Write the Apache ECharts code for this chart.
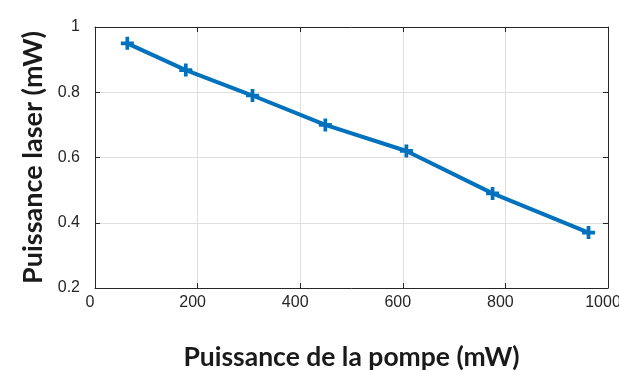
<!DOCTYPE html>
<html><head><meta charset="utf-8">
<script src="https://cdn.jsdelivr.net/npm/echarts@6/dist/echarts.min.js"></script>
<style>html,body{margin:0;padding:0;background:#fff}#c{width:619px;height:370px}</style>
</head><body><div id="c"></div>
<script>
const pumpPower = [63, 177, 307, 449, 607, 775, 962];
const laserPower = [0.95, 0.868, 0.79, 0.70, 0.62, 0.49, 0.37];
const xTitle = 'Puissance de la pompe (mW)';
const yTitle = 'Puissance laser (mW)';

const chart = echarts.init(document.getElementById('c'));
const axisColor = '#262626';
const plusPath = 'path://M-1,-3.5L1,-3.5L1,-1L3.5,-1L3.5,1L1,1L1,3.5L-1,3.5L-1,1L-3.5,1L-3.5,-1L-1,-1Z';
const baseX = {
  type: 'value', min: 0, max: 1000, interval: 200,
  axisLine: {show: true, onZero: false, lineStyle: {color: axisColor, width: 1}},
  axisTick: {show: true, inside: true, length: 5, lineStyle: {color: axisColor}},
  splitLine: {show: false}
};
const baseY = {
  type: 'value', min: 0.2, max: 1, interval: 0.2,
  axisLine: {show: true, onZero: false, lineStyle: {color: axisColor, width: 1}},
  axisTick: {show: true, inside: true, length: 5, lineStyle: {color: axisColor}},
  splitLine: {show: false}
};
chart.setOption({
  animation: false,
  grid: {left: 95, right: 11, top: 27, bottom: 82, containLabel: false, outerBoundsMode: 'none'},
  xAxis: [
    Object.assign({}, baseX, {
      position: 'bottom',
      splitLine: {show: true, lineStyle: {color: '#dfdfdf', width: 1}},
      axisLabel: {color: axisColor, fontFamily: 'Liberation Sans, Arial', fontSize: 16, margin: 7,
        padding: [0, 10, 0, 0], formatter: v => String(v)},
      name: xTitle, nameLocation: 'middle', nameGap: 56,
      nameTextStyle: {fontFamily: 'Lato', fontWeight: 'bold', fontSize: 26.5, color: '#1a1a1a'}
    }),
    Object.assign({}, baseX, {position: 'top', axisLabel: {show: false}})
  ],
  yAxis: [
    Object.assign({}, baseY, {
      position: 'left',
      splitLine: {show: true, lineStyle: {color: '#dfdfdf', width: 1}},
      axisLabel: {color: axisColor, fontFamily: 'Liberation Sans, Arial', fontSize: 16, margin: 15,
        padding: [0, 0, 7, 0], formatter: v => String(Math.round(v * 10) / 10)},
      name: yTitle, nameLocation: 'middle', nameGap: 48,
      nameTextStyle: {fontFamily: 'Lato', fontWeight: 'bold', fontSize: 27, color: '#1a1a1a'}
    }),
    Object.assign({}, baseY, {position: 'right', axisLabel: {show: false}})
  ],
  series: [{
    type: 'line',
    data: pumpPower.map((x, i) => [x, laserPower[i]]),
    lineStyle: {color: '#0072BD', width: 4},
    itemStyle: {color: '#0072BD'},
    symbol: plusPath, symbolSize: 13, showSymbol: true
  }]
});
</script></body></html>
